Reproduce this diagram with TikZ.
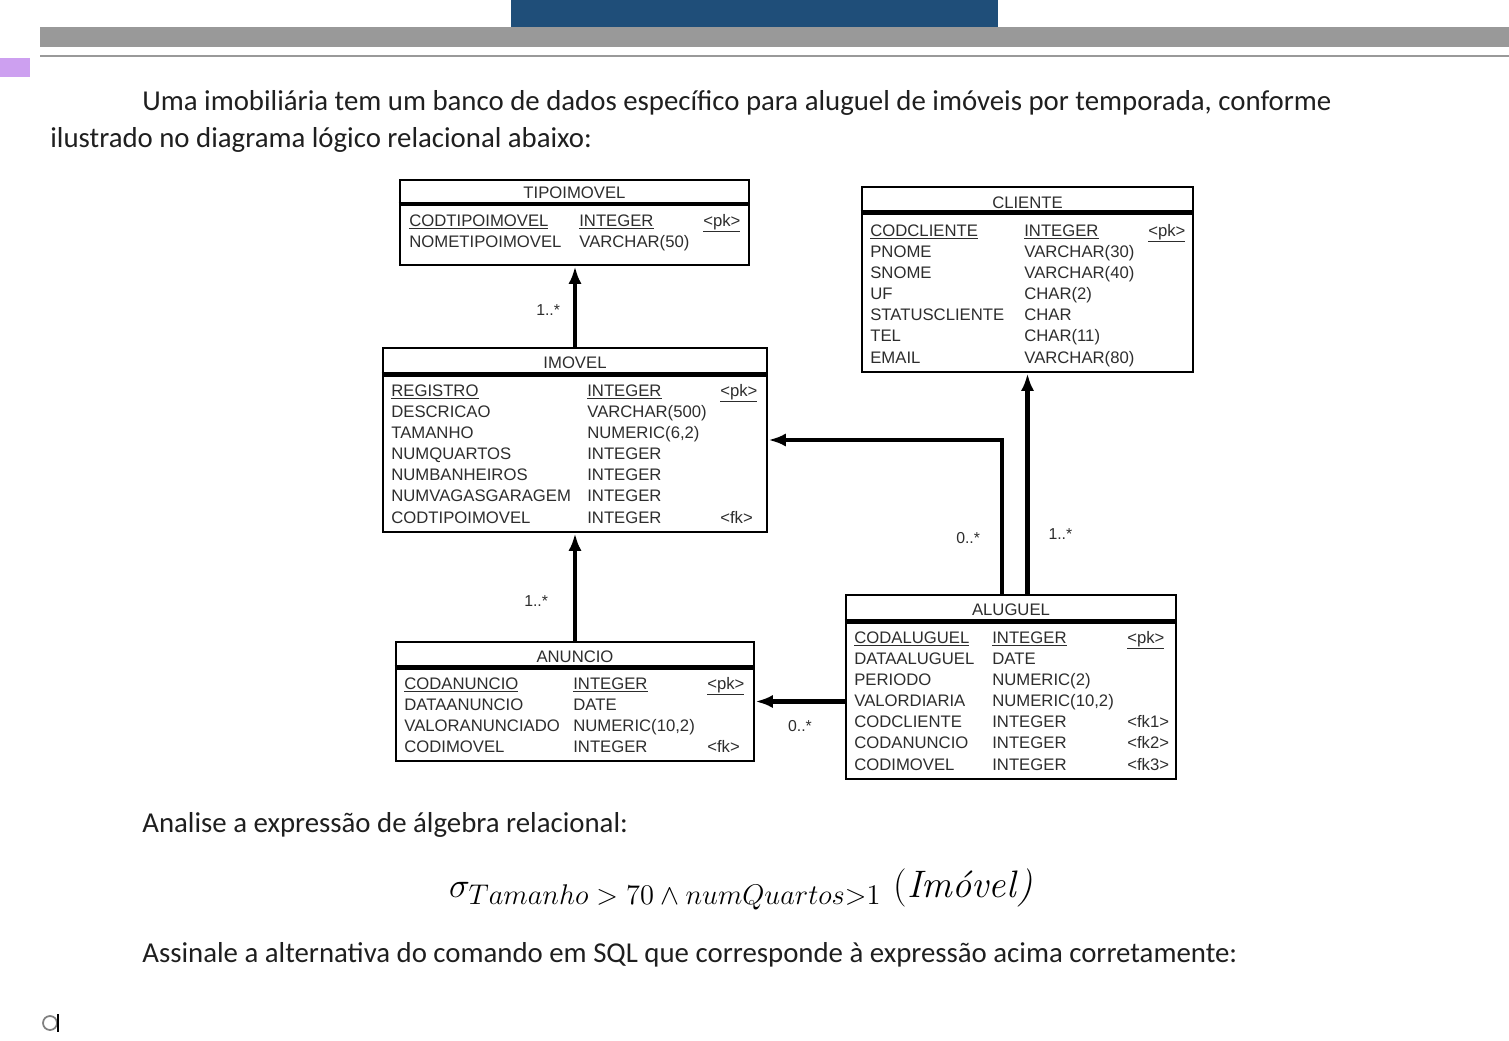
\RequirePackage{fix-cm}
\documentclass[tikz,border=0pt]{standalone}
\usepackage{fontspec}
\setmainfont{Liberation Sans}
\newfontfamily\bodyfont{Carlito}
\newfontfamily\lmfont{Latin Modern Roman}
\usepackage{amsmath,amssymb}
\usepackage{xcolor}
\usetikzlibrary{positioning,arrows.meta,fit}

\definecolor{barblue}{RGB}{31,78,121}
\definecolor{bargray}{RGB}{153,153,153}
\definecolor{tablav}{RGB}{205,160,240}
\definecolor{inkgray}{RGB}{45,45,45}

\begin{document}
\begin{tikzpicture}[
  x=0.02cm, y=-0.02cm,
  tbl/.style={draw, line width=1.6pt, inner sep=0pt},
  hsep/.style={line width=2.4pt},
  ttl/.style={inner sep=0pt, font=\fontsize{9.5}{11}\selectfont, text=inkgray},
  fld/.style={anchor=base west, inner sep=0pt, font=\fontsize{9.5}{11}\selectfont, text=inkgray},
  mult/.style={inner sep=0pt, font=\fontsize{9}{11}\selectfont, text=inkgray},
  para/.style={anchor=base west, inner sep=0pt, font=\bodyfont\fontsize{16.4}{19}\selectfont, text=black!88},
  formula/.style={anchor=base, inner sep=0pt, font=\fontsize{20}{24}\selectfont},
  arr/.style={-{Latex[length=10pt, width=7.5pt]}, line width=2.3pt}
]
\useasboundingbox (0,0) rectangle (1509,1041);
% page header
\fill[barblue] (511,0) rectangle (998,27);
\fill[bargray] (40,27) rectangle (1509,47);
\draw[bargray, line width=0.8pt] (40,56) -- (1509,56);
\fill[tablav] (0,58) rectangle (30,77);

% question text
\node[para] (intro1) at (142,110) {Uma imobiliária tem um banco de dados específico para aluguel de imóveis por temporada, conforme};
\node[para] (intro2) at (50,147) {ilustrado no diagrama lógico relacional abaixo:};

% TIPOIMOVEL
\node[tbl, fit={(400,180) (749,265)}] (tipo) {};
\draw[hsep] ([yshift=-0.51cm]tipo.north west) -- ([yshift=-0.51cm]tipo.north east);
\node[ttl] (tipo-h) at ([yshift=-0.28cm]tipo.north) {TIPOIMOVEL};
\foreach \nm/\ty/\ky [count=\i from 0] in {
  \underline{CODTIPOIMOVEL}/\underline{INTEGER}/\underline{<pk>},
  NOMETIPOIMOVEL/VARCHAR(50)/{}}{
  \node[fld] (tipo-n\i) at (409,{226+21.17*\i}) {\nm};
  \node[fld] (tipo-t\i) at (579,{226+21.17*\i}) {\ty};
  \node[fld] (tipo-k\i) at (703,{226+21.17*\i}) {\ky};
}

% IMOVEL
\node[tbl, fit={(383,348) (767,532)}] (imovel) {};
\draw[hsep] ([yshift=-0.56cm]imovel.north west) -- ([yshift=-0.56cm]imovel.north east);
\node[ttl] (imovel-h) at ([yshift=-0.32cm]imovel.north) {IMOVEL};
\foreach \nm/\ty/\ky [count=\i from 0] in {
  \underline{REGISTRO}/\underline{INTEGER}/\underline{<pk>},
  DESCRICAO/VARCHAR(500)/{},
  TAMANHO/{NUMERIC(6,2)}/{},
  NUMQUARTOS/INTEGER/{},
  NUMBANHEIROS/INTEGER/{},
  NUMVAGASGARAGEM/INTEGER/{},
  CODTIPOIMOVEL/INTEGER/<fk>}{
  \node[fld] (imovel-n\i) at (391,{396+21.17*\i}) {\nm};
  \node[fld] (imovel-t\i) at (587,{396+21.17*\i}) {\ty};
  \node[fld] (imovel-k\i) at (720,{396+21.17*\i}) {\ky};
}

% CLIENTE
\node[tbl, fit={(862,187) (1193,372)}] (cliente) {};
\draw[hsep] ([yshift=-0.54cm]cliente.north west) -- ([yshift=-0.54cm]cliente.north east);
\node[ttl] (cliente-h) at ([yshift=-0.34cm]cliente.north) {CLIENTE};
\foreach \nm/\ty/\ky [count=\i from 0] in {
  \underline{CODCLIENTE}/\underline{INTEGER}/\underline{<pk>},
  PNOME/VARCHAR(30)/{},
  SNOME/VARCHAR(40)/{},
  UF/CHAR(2)/{},
  STATUSCLIENTE/CHAR/{},
  TEL/CHAR(11)/{},
  EMAIL/VARCHAR(80)/{}}{
  \node[fld] (cliente-n\i) at (870,{236+21.17*\i}) {\nm};
  \node[fld] (cliente-t\i) at (1024,{236+21.17*\i}) {\ty};
  \node[fld] (cliente-k\i) at (1148,{236+21.17*\i}) {\ky};
}

% ALUGUEL
\node[tbl, fit={(846,595) (1176,779)}] (aluguel) {};
\draw[hsep] ([yshift=-0.56cm]aluguel.north west) -- ([yshift=-0.56cm]aluguel.north east);
\node[ttl] (aluguel-h) at ([yshift=-0.32cm]aluguel.north) {ALUGUEL};
\foreach \nm/\ty/\ky [count=\i from 0] in {
  \underline{CODALUGUEL}/\underline{INTEGER}/\underline{<pk>},
  DATAALUGUEL/DATE/{},
  PERIODO/NUMERIC(2)/{},
  VALORDIARIA/{NUMERIC(10,2)}/{},
  CODCLIENTE/INTEGER/<fk1>,
  CODANUNCIO/INTEGER/<fk2>,
  CODIMOVEL/INTEGER/<fk3>}{
  \node[fld] (aluguel-n\i) at (854,{643+21.17*\i}) {\nm};
  \node[fld] (aluguel-t\i) at (992,{643+21.17*\i}) {\ty};
  \node[fld] (aluguel-k\i) at (1127,{643+21.17*\i}) {\ky};
}

% ANUNCIO
\node[tbl, fit={(396,642) (754,761)}] (anuncio) {};
\draw[hsep] ([yshift=-0.54cm]anuncio.north west) -- ([yshift=-0.54cm]anuncio.north east);
\node[ttl] (anuncio-h) at ([yshift=-0.32cm]anuncio.north) {ANUNCIO};
\foreach \nm/\ty/\ky [count=\i from 0] in {
  \underline{CODANUNCIO}/\underline{INTEGER}/\underline{<pk>},
  DATAANUNCIO/DATE/{},
  VALORANUNCIADO/{NUMERIC(10,2)}/{},
  CODIMOVEL/INTEGER/<fk>}{
  \node[fld] (anuncio-n\i) at (404,{689+21*\i}) {\nm};
  \node[fld] (anuncio-t\i) at (573,{689+21*\i}) {\ty};
  \node[fld] (anuncio-k\i) at (707,{689+21*\i}) {\ky};
}

% references
\draw[arr] (imovel.north) -- node[mult, pos=0.45, left=0.26cm] (m-tipo) {1..*} (imovel.north |- tipo.south);
\draw[arr] (anuncio.north) -- node[mult, pos=0.37, left=0.5cm] (m-anuncio) {1..*} (anuncio.north |- imovel.south);
\draw[arr] ([xshift=-0.18cm]aluguel.north) |- node[mult, pos=0.18, left=0.4cm] (m-imovel) {0..*} (imovel.east);
\draw[arr] (aluguel.north -| cliente.south) -- node[mult, pos=0.27, right=0.38cm] (m-cliente) {1..*} (cliente.south);
\draw[arr] (aluguel.west |- anuncio.east) -- node[mult, pos=0.5, below=0.34cm] (m-aluguel) {0..*} (anuncio.east);

% expression
\node[para] (ask1) at (142,832) {Analise a expressão de álgebra relacional:};
\node[formula] (expr) at (741,897) {$\sigma_{\text{\fontsize{16.2}{19}\selectfont$Tamanho > 70 \wedge numQuartos{>}1$}}$\hspace{7pt}{\lmfont\fontsize{21.8}{26}\selectfont(\itshape Imóvel\/)}};
\node[para] (ask2) at (142,962) {Assinale a alternativa do comando em SQL que corresponde à expressão acima corretamente:};

% option marker
\draw[gray, line width=1pt, fill=white] (50,1023) circle[radius=0.14cm];
\draw[line width=1.5pt] (58,1014) -- (58,1032);
\end{tikzpicture}
\end{document}
